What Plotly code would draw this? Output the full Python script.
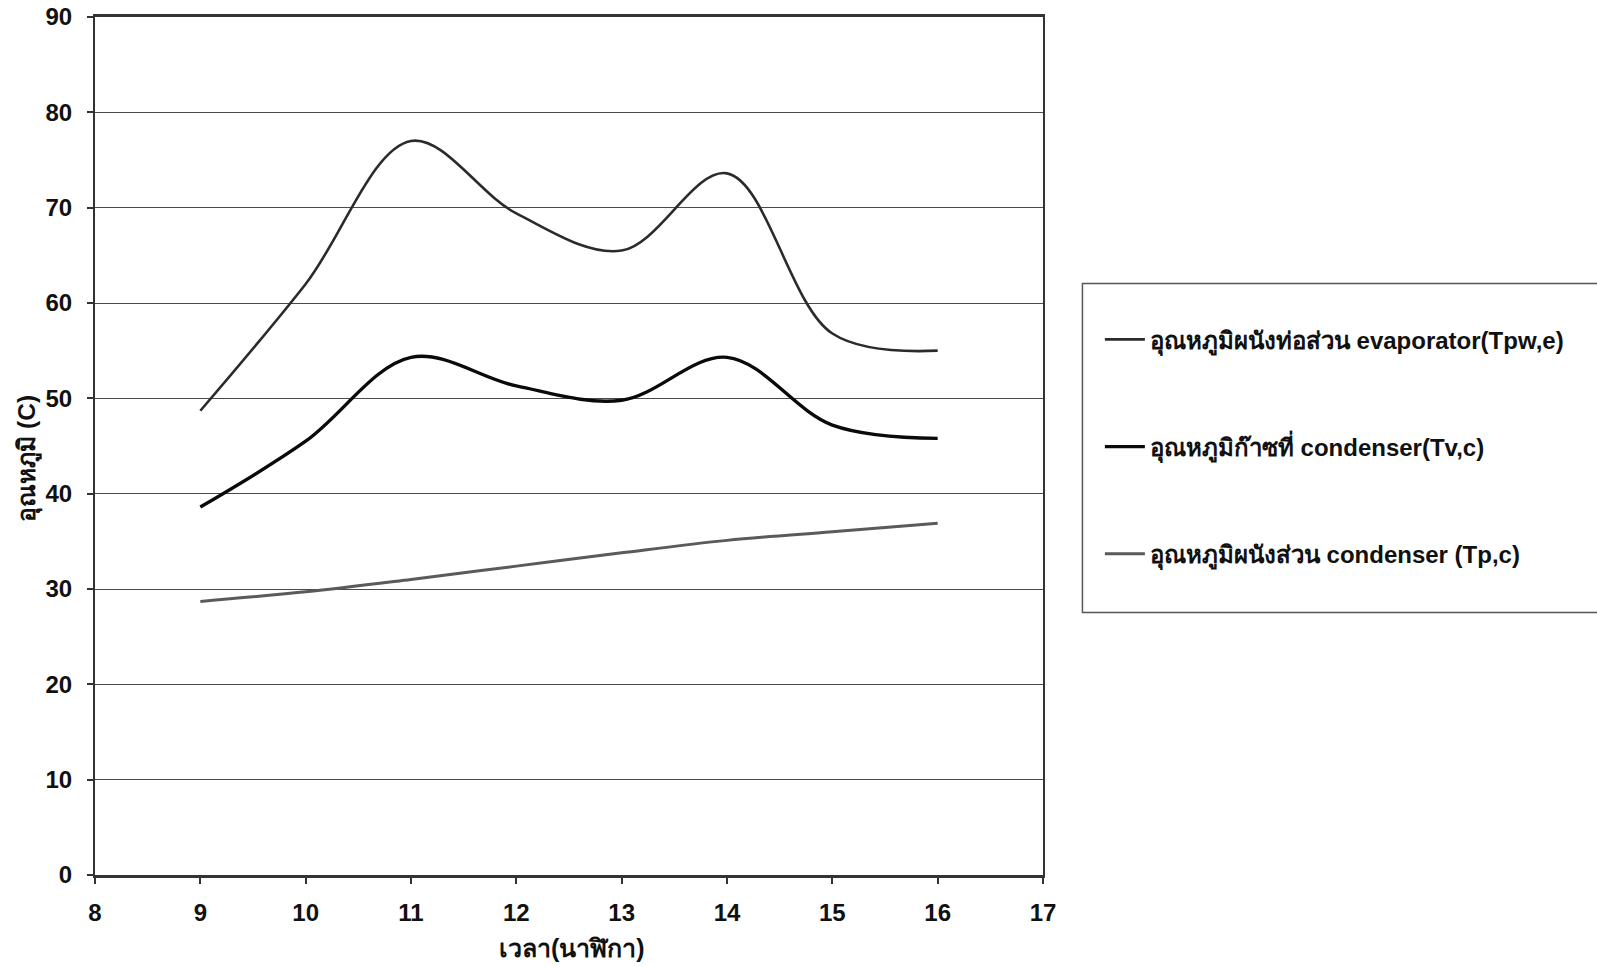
import plotly.graph_objects as go

# Measurement times (hour of day)
hours = [9, 10, 11, 12, 13, 14, 15, 16]

# Temperatures in degrees C
t_pw_e = [48.7, 62.0, 77.0, 69.4, 65.5, 73.6, 56.8, 55.0]   # evaporator pipe wall
t_v_c = [38.6, 45.5, 54.3, 51.3, 49.8, 54.3, 47.2, 45.8]    # vapour in condenser
t_p_c = [28.7, 29.7, 31.0, 32.4, 33.8, 35.1, 36.0, 36.9]    # condenser wall

series_names = [
    "อุณหภูมิผนังท่อส่วน evaporator(Tpw,e)",
    "อุณหภูมิก๊าซที่ condenser(Tv,c)",
    "อุณหภูมิผนังส่วน condenser (Tp,c)",
]

x_title = "เวลา(นาฬิกา)"
y_title = "อุณหภูมิ (C)"

FONT = "Liberation Sans, Arial, sans-serif"

styles = [
    dict(color="#2b2b2b", width=2.6),
    dict(color="#0a0a0a", width=3.4),
    dict(color="#5a5a5a", width=3.0),
]

fig = go.Figure()
for i, (ys, name) in enumerate(zip([t_pw_e, t_v_c, t_p_c], series_names)):
    fig.add_trace(go.Scatter(
        x=hours, y=ys, name=name, mode="lines",
        line=dict(shape="spline", smoothing=1.0, **styles[i]),
        legendgroup=f"g{i}",
    ))

axis_common = dict(
    showline=True, linecolor="#333333", mirror=True,
    ticks="outside", ticklen=6, tickwidth=1.5, tickcolor="#333333",
    tickfont=dict(family=FONT, size=24, color="#111111", weight="bold"),
    zeroline=False, automargin=False,
)

fig.update_xaxes(range=[8, 17], dtick=1, tick0=8, showgrid=False,
                 linewidth=2.5, ticklabelstandoff=8, **axis_common)
fig.update_yaxes(range=[0, 90], dtick=10, tick0=0, showgrid=True,
                 gridcolor="#4a4a4a", gridwidth=1.2,
                 linewidth=2, ticklabelstandoff=10, **axis_common)

# Legend frame, running off the right edge of the page
fig.add_shape(type="rect", xref="paper", yref="paper",
              x0=1.0416, x1=1.62, y0=0.306, y1=0.6894,
              line=dict(color="#555555", width=1.5), fillcolor="rgba(0,0,0,0)")

fig.add_annotation(text=x_title, xref="paper", yref="paper",
                   x=0.503, y=-0.085, xanchor="center", yanchor="middle",
                   showarrow=False,
                   font=dict(family=FONT, size=25, color="#111111", weight="bold"))
fig.add_annotation(text=y_title, xref="paper", yref="paper",
                   x=-0.071, y=0.486, xanchor="center", yanchor="middle",
                   textangle=-90, showarrow=False,
                   font=dict(family=FONT, size=24.5, color="#111111", weight="bold"))

fig.update_layout(
    width=1597, height=967,
    margin=dict(l=95, r=554, t=17, b=92, autoexpand=False),
    paper_bgcolor="white", plot_bgcolor="white",
    showlegend=True,
    legend=dict(
        x=1.06, y=0.650, xanchor="left", yanchor="top",
        bgcolor="rgba(0,0,0,0)", borderwidth=0,
        font=dict(family=FONT, size=24, color="#111111", weight="bold"),
        tracegroupgap=73, itemwidth=40,
    ),
)

fig.write_html("out.html")
